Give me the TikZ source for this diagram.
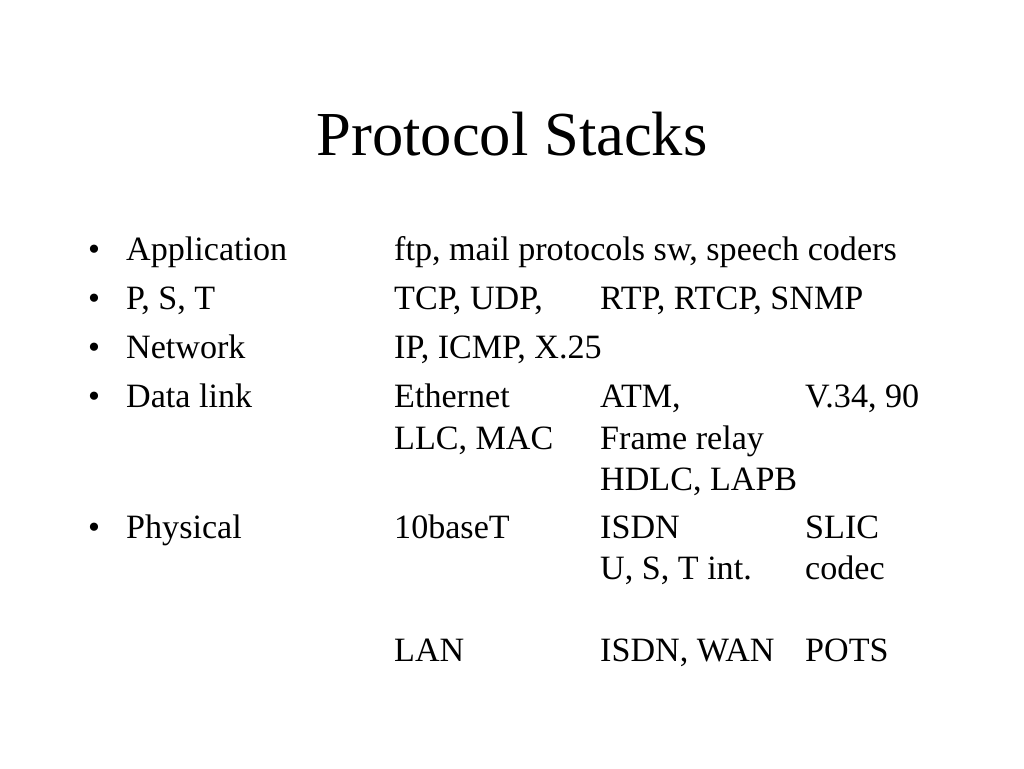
\documentclass[tikz,border=0pt]{standalone}
\usepackage{fontspec}
\setmainfont{Liberation Serif}
\newcommand{\titlefont}{\fontsize{62.6}{75}\selectfont}
\newcommand{\bodyfont}{\fontsize{34.1}{41}\selectfont}
\tikzstyle{entry}=[anchor=base west,inner sep=0pt,font=\bodyfont]
\tikzstyle{heading}=[anchor=base,inner sep=0pt,font=\titlefont]
\newcommand{\layer}[3]{% Syntax: {name}{baseline}{layer label}
\node[entry] (#1bullet) at (88,#2) {\textbullet};
\node[entry] (#1) at (126,#2) {#3};
}
\newcommand{\cell}[4]{% Syntax: {name}{column x}{baseline}{text}
\node[entry] (#1) at (#2,#3) {#4};
}
\begin{document}
\begin{tikzpicture}[x=1pt,y=-1pt]
	\useasboundingbox (0,0) rectangle (1024,768);
	\node[heading] (title) at (512,155) {Protocol Stacks};
	\layer{app}{260}{Application}
	\layer{pst}{309}{P, S, T}
	\layer{net}{358}{Network}
	\layer{dl}{407}{Data link}
	\layer{phys}{538}{Physical}
	% second column
	\cell{apptwo}{394}{260}{ftp, mail protocols sw, speech coders}
	\cell{psttwo}{394}{309}{TCP, UDP,}
	\cell{nettwo}{394}{358}{IP, ICMP, X.25}
	\cell{dltwo}{394}{407}{Ethernet}
	\cell{dltwob}{394}{449}{LLC, MAC}
	\cell{phystwo}{394}{538}{10baseT}
	\cell{phystwob}{394}{661}{LAN}
	% third column
	\cell{pstthree}{600}{309}{RTP, RTCP, SNMP}
	\cell{dlthree}{600}{407}{ATM,}
	\cell{dlthreeb}{600}{449}{Frame relay}
	\cell{dlthreec}{600}{490}{HDLC, LAPB}
	\cell{physthree}{600}{538}{ISDN}
	\cell{physthreeb}{600}{579}{U, S, T int.}
	\cell{physthreec}{600}{661}{ISDN, WAN}
	% fourth column
	\cell{dlfour}{805}{407}{V.34, 90}
	\cell{physfour}{805}{538}{SLIC}
	\cell{physfourb}{805}{579}{codec}
	\cell{physfourc}{805}{661}{POTS}
\end{tikzpicture}
\end{document}
